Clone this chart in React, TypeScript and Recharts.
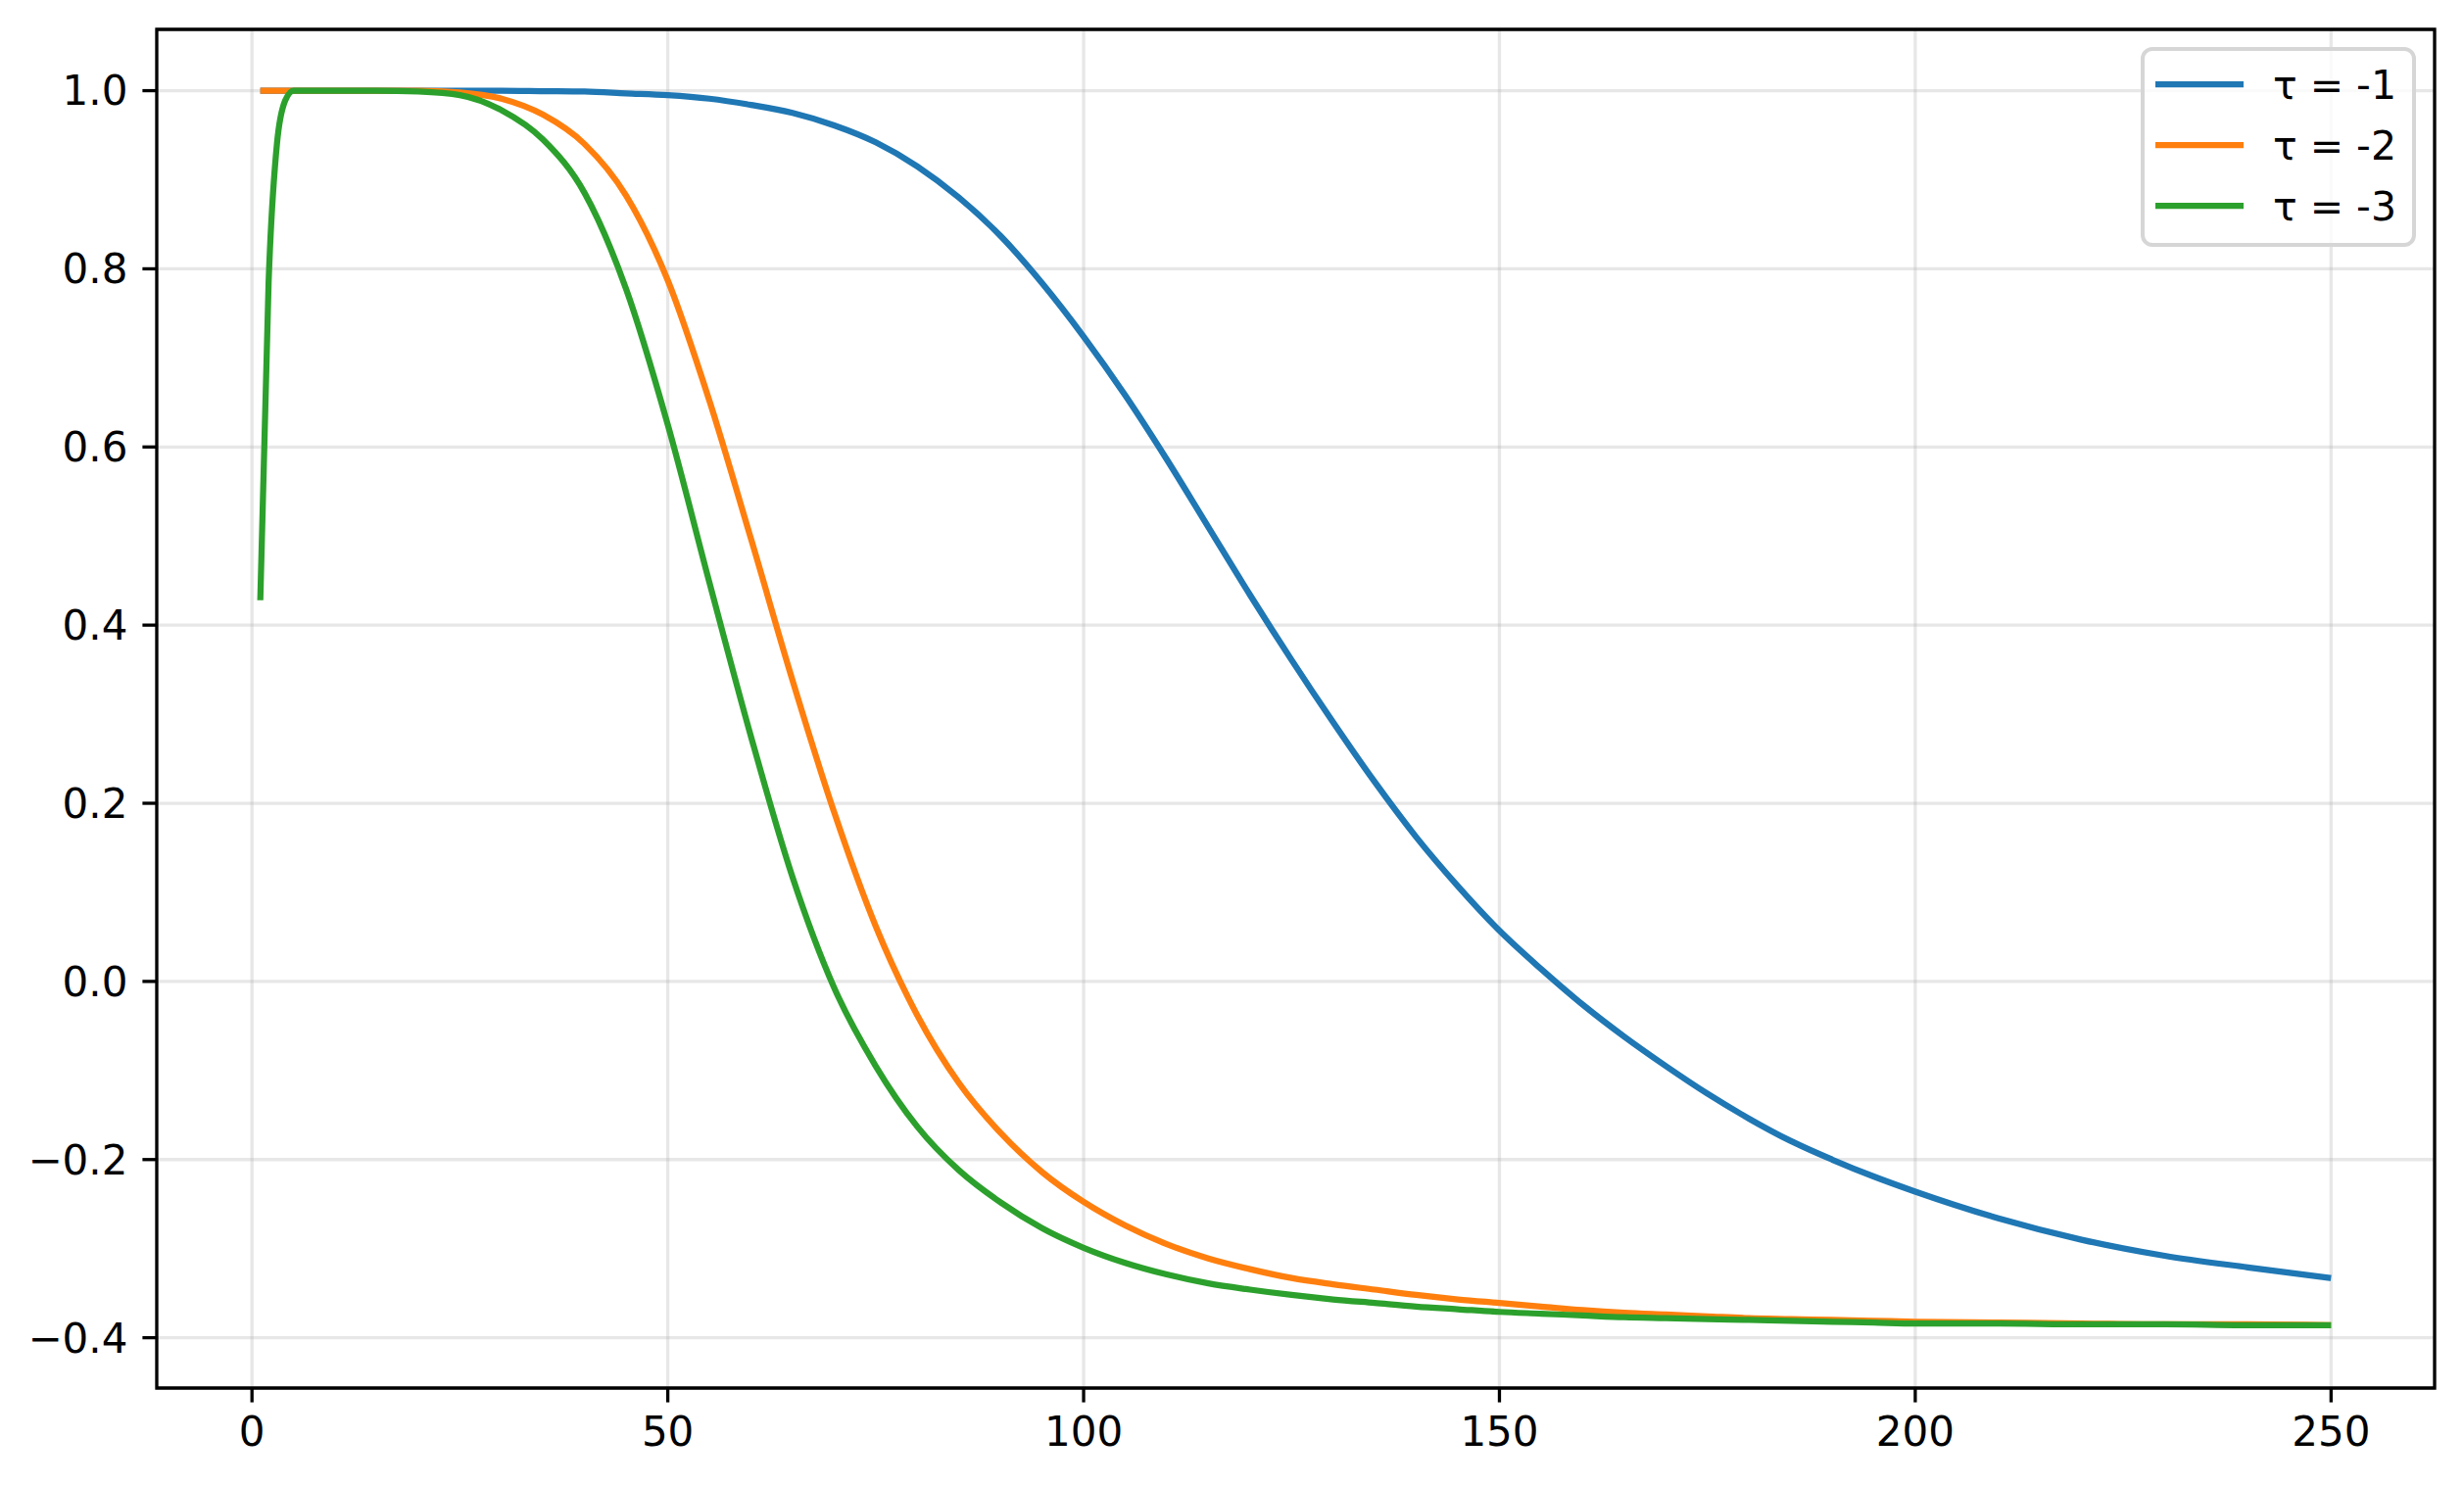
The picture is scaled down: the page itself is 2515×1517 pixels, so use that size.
import React from 'react';
import { LineChart, Line, XAxis, YAxis, CartesianGrid, ReferenceArea } from 'recharts';

// sample positions along the x axis
const steps = [
  1, 2, 3, 4, 5, 10, 15, 20, 25, 30, 35, 40, 45, 50, 55, 60, 65, 70, 75, 80, 85, 90, 95, 100, 105,
  110, 115, 120, 125, 130, 135, 140, 145, 150, 155, 160, 165, 170, 175, 180, 185, 190, 195, 200,
  210, 220, 230, 240, 250,
];

const tauMinus1 = [
  1.0, 1.0, 1.0, 1.0, 1.0, 1.0, 1.0, 1.0, 1.0, 1.0, 0.9995, 0.999, 0.997, 0.995, 0.991, 0.984,
  0.975, 0.961, 0.942, 0.915, 0.88, 0.837, 0.784, 0.724, 0.658, 0.586, 0.51, 0.434, 0.361, 0.291,
  0.224, 0.162, 0.107, 0.057, 0.014, -0.026, -0.062, -0.095, -0.126, -0.154, -0.179, -0.2,
  -0.219, -0.236, -0.266, -0.29, -0.308, -0.321, -0.333,
];

const tauMinus2 = [
  1.0, 1.0, 1.0, 1.0, 1.0, 1.0, 1.0, 1.0, 0.998, 0.991, 0.973, 0.94, 0.882, 0.787, 0.652, 0.497,
  0.338, 0.19, 0.062, -0.038, -0.114, -0.17, -0.214, -0.2475, -0.274, -0.295, -0.311, -0.323,
  -0.333, -0.34, -0.346, -0.352, -0.357, -0.361, -0.365, -0.369, -0.372, -0.374, -0.376, -0.378,
  -0.379, -0.38, -0.381, -0.382, -0.383, -0.384, -0.385, -0.385, -0.386,
];

const tauMinus3 = [
  0.428, 0.785, 0.94, 0.989, 1.0, 1.0, 1.0, 0.999, 0.995, 0.978, 0.945, 0.885, 0.777, 0.625, 0.448,
  0.275, 0.117, -0.007, -0.095, -0.163, -0.212, -0.248, -0.277, -0.299, -0.316, -0.329, -0.339,
  -0.346, -0.352, -0.357, -0.361, -0.365, -0.368, -0.371, -0.373, -0.375, -0.377, -0.378, -0.379,
  -0.38, -0.381, -0.382, -0.383, -0.384, -0.384, -0.385, -0.385, -0.386, -0.386,
];

const xTicks = [0, 50, 100, 150, 200, 250];
const yTicks = [-0.4, -0.2, 0, 0.2, 0.4, 0.6, 0.8, 1.0];

const X_DOMAIN: [number, number] = [-11.45, 262.45];
const Y_DOMAIN: [number, number] = [-0.4565, 1.0688];

const series = [
  { key: 'tau1', label: 'τ = -1', color: '#1f77b4' },
  { key: 'tau2', label: 'τ = -2', color: '#ff7f0e' },
  { key: 'tau3', label: 'τ = -3', color: '#2ca02c' },
];

const data = steps.map((x, i) => ({
  x,
  tau1: tauMinus1[i],
  tau2: tauMinus2[i],
  tau3: tauMinus3[i],
}));

const W = 2515;
const H = 1517;
const FONT = "'DejaVu Sans', sans-serif";

// matplotlib style minus sign
const fmtY = (v: number) => (v < 0 ? '\u2212' : '') + Math.abs(v).toFixed(1);

const tickStyle = { fontSize: 42, fill: '#000', fontFamily: FONT };

const LegendBox: React.FC = () => (
  <svg
    width={W}
    height={H}
    style={{ position: 'absolute', left: 0, top: 0, pointerEvents: 'none' }}
  >
    <rect
      x={2187}
      y={50}
      width={277}
      height={200}
      rx={10}
      fill="rgba(255,255,255,0.8)"
      stroke="#d6d6d6"
      strokeWidth={4}
    />
    {series.map((s, i) => (
      <g key={s.key}>
        <line x1={2200} x2={2290} y1={86 + i * 62} y2={86 + i * 62} stroke={s.color} strokeWidth={6.25} />
        <text x={2320} y={101 + i * 62} fontSize={41} fontFamily={FONT} fill="#000">
          {s.label}
        </text>
      </g>
    ))}
  </svg>
);

const App: React.FC = () => (
  <div style={{ position: 'absolute', left: 0, top: 0, width: W, height: H, background: '#fff' }}>
    <LineChart width={W} height={H} data={data} margin={{ top: 30, right: 30, bottom: 0, left: 0 }}>
      <CartesianGrid stroke="#b0b0b0" strokeOpacity={0.3} strokeWidth={3.3} />
      <XAxis
        dataKey="x"
        type="number"
        domain={X_DOMAIN}
        allowDataOverflow
        ticks={xTicks}
        interval={0}
        height={100}
        axisLine={false}
        tickLine={{ stroke: '#000', strokeWidth: 3.3 }}
        tickSize={14.6}
        tickMargin={15}
        tick={tickStyle}
      />
      <YAxis
        type="number"
        domain={Y_DOMAIN}
        allowDataOverflow
        ticks={yTicks}
        interval={0}
        width={160}
        axisLine={false}
        tickLine={{ stroke: '#000', strokeWidth: 3.3 }}
        tickSize={14.6}
        tickMargin={15}
        tick={tickStyle}
        tickFormatter={fmtY}
      />
      {series.map((s) => (
        <Line
          key={s.key}
          dataKey={s.key}
          name={s.label}
          type="monotone"
          stroke={s.color}
          strokeWidth={6.25}
          dot={false}
          isAnimationActive={false}
        />
      ))}
      <ReferenceArea
        x1={X_DOMAIN[0]}
        x2={X_DOMAIN[1]}
        y1={Y_DOMAIN[0]}
        y2={Y_DOMAIN[1]}
        fill="none"
        fillOpacity={0}
        stroke="#000"
        strokeWidth={3.3}
        ifOverflow="visible"
      />
    </LineChart>
    <LegendBox />
  </div>
);

export default App;
